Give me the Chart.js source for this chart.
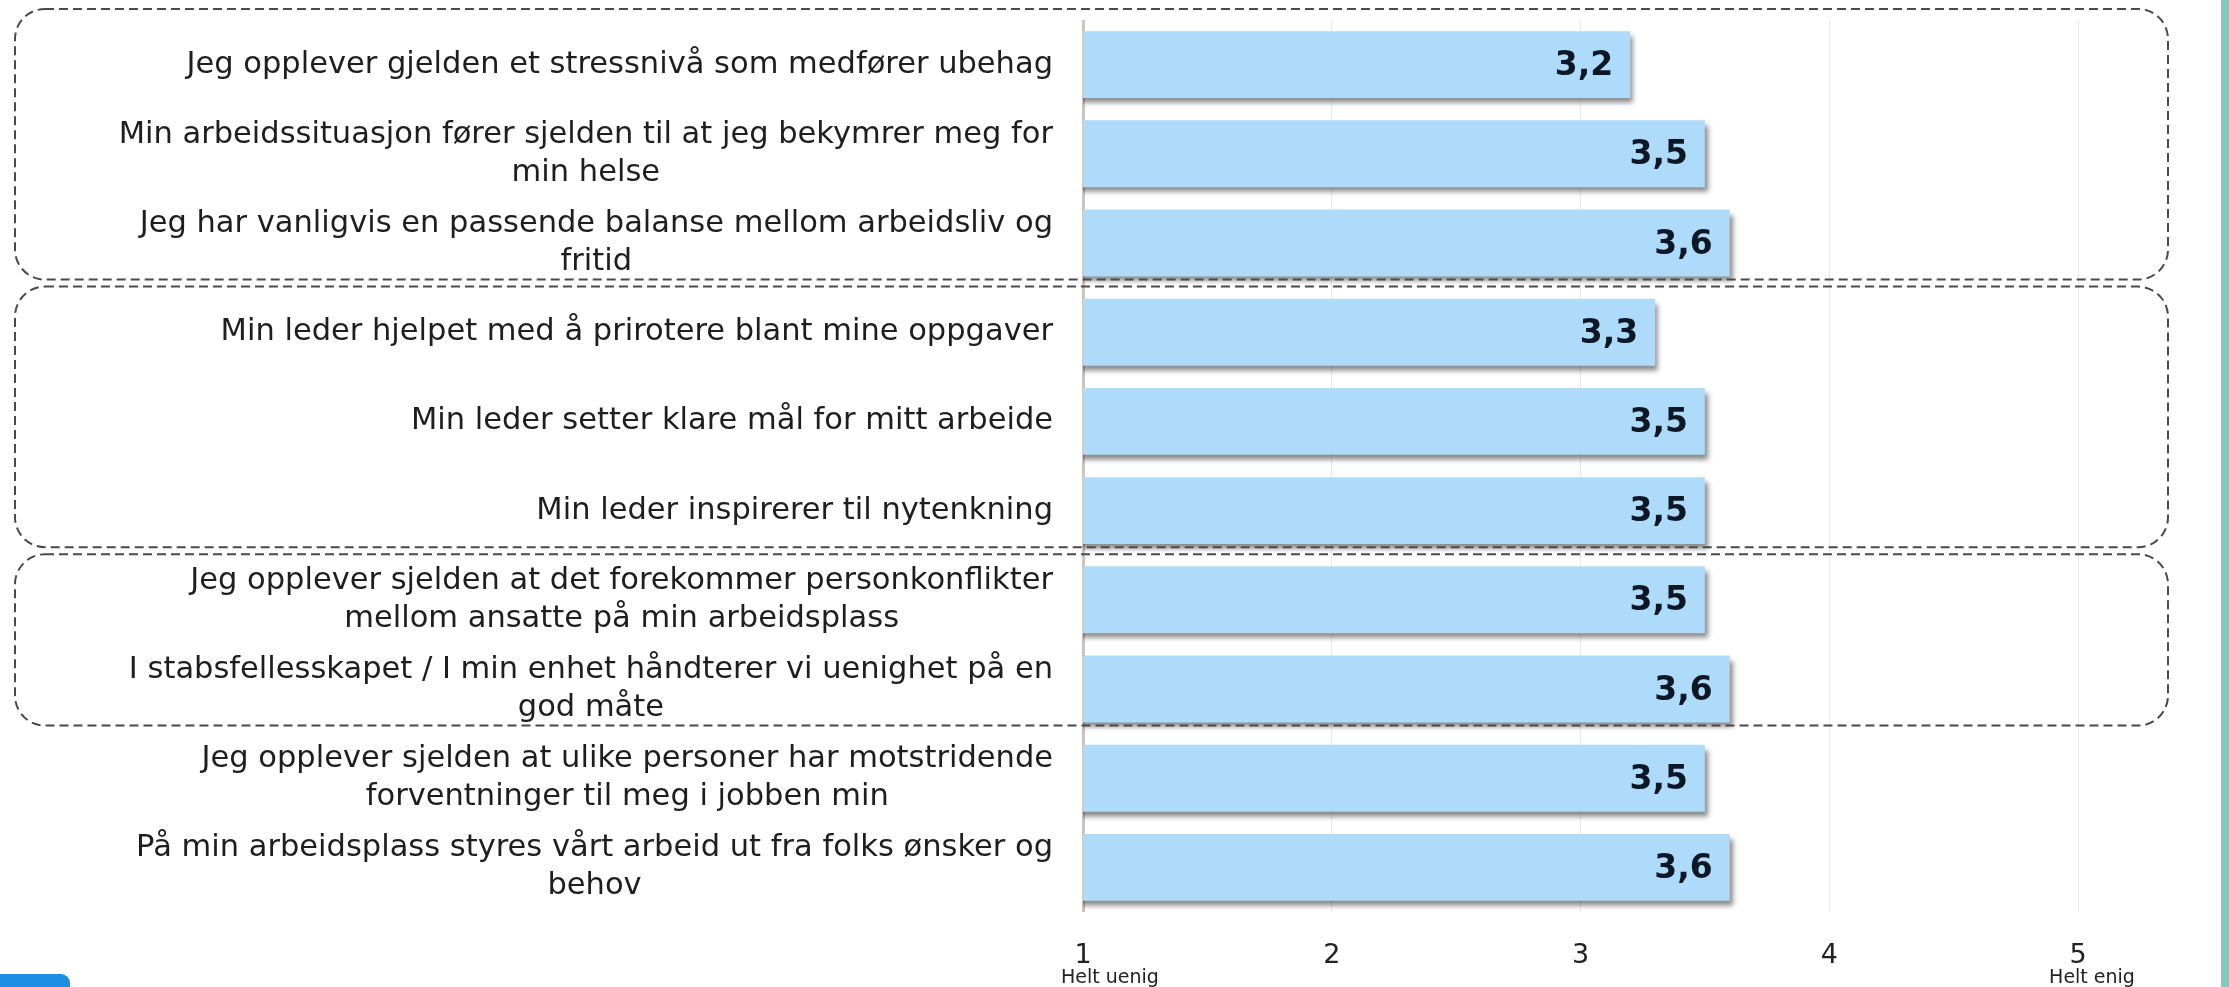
<!DOCTYPE html>
<html>
<head>
<meta charset="utf-8">
<script src="https://cdn.jsdelivr.net/npm/chart.js@4"></script>
<style>
  html, body { margin: 0; padding: 0; background: #ffffff; overflow: hidden; }
  #wrap { position: relative; width: 2229px; height: 987px; }
  #chart { position: absolute; left: 0; top: 0; }
  #strip { position: absolute; left: 2221px; top: 0; width: 8px; height: 987px; background: #7fcbbd; }
  #corner { position: absolute; left: 0; top: 974px; width: 70px; height: 14px; background: #1c8fe2; border-top-right-radius: 9px; }
</style>
</head>
<body>
<div id="wrap">
  <canvas id="chart" width="2229" height="987"></canvas>
  <div id="strip"></div>
  <div id="corner"></div>
</div>
<script>
// ---- data ----
const categories = [
  ['Jeg opplever gjelden et stressnivå som medfører ubehag'],
  ['Min arbeidssituasjon fører sjelden til at jeg bekymrer meg for', 'min helse'],
  ['Jeg har vanligvis en passende balanse mellom arbeidsliv og', 'fritid'],
  ['Min leder hjelpet med å prirotere blant mine oppgaver'],
  ['Min leder setter klare mål for mitt arbeide'],
  ['Min leder inspirerer til nytenkning'],
  ['Jeg opplever sjelden at det forekommer personkonflikter', 'mellom ansatte på min arbeidsplass'],
  ['I stabsfellesskapet / I min enhet håndterer vi uenighet på en', 'god måte'],
  ['Jeg opplever sjelden at ulike personer har motstridende', 'forventninger til meg i jobben min'],
  ['På min arbeidsplass styres vårt arbeid ut fra folks ønsker og', 'behov']
];
const values = [3.2, 3.5, 3.6, 3.3, 3.5, 3.5, 3.5, 3.6, 3.5, 3.6];
const tickValues = [1, 2, 3, 4, 5];
const tickSubLabelValues = [1, 5];
const tickSubLabels = ['Helt uenig', 'Helt enig'];
const groupStarts = [0, 3, 6];
const groupEnds = [2, 5, 7];

// ---- styling ----
const FONT = "'DejaVu Sans', Verdana, sans-serif";
const BAR_COLOR = '#aedbfa';
const LABEL_FONT_SIZE = 30.5;
const LABEL_LINE_H = 38;
const LABEL_RIGHT_GAP = 30;

const decorPlugin = {
  id: 'decor',
  beforeDatasetsDraw(chart) {
    const ctx = chart.ctx;
    ctx.save();
    ctx.shadowColor = 'rgba(40,40,40,0.55)';
    ctx.shadowOffsetX = 3;
    ctx.shadowOffsetY = 5;
    ctx.shadowBlur = 5;
  },
  afterDatasetsDraw(chart) {
    const ctx = chart.ctx;
    ctx.restore();
    const y = chart.scales.y;
    const step = Math.abs(y.getPixelForValue(1) - y.getPixelForValue(0));
    const boundary = (i) => y.getPixelForValue(i) - step / 2;

    // dashed group boxes
    ctx.save();
    ctx.strokeStyle = '#4a4a4a';
    ctx.lineWidth = 2;
    ctx.setLineDash([9, 5]);
    const left = 15, right = 2168, r = 30;
    for (let g = 0; g < groupStarts.length; g++) {
      const top = boundary(groupStarts[g]) + (groupStarts[g] === 0 ? -11 : -1);
      const bottom = boundary(groupEnds[g] + 1) - 8;
      ctx.beginPath();
      ctx.moveTo(left + r, top);
      ctx.lineTo(right - r, top);
      ctx.arcTo(right, top, right, top + r, r);
      ctx.lineTo(right, bottom - r);
      ctx.arcTo(right, bottom, right - r, bottom, r);
      ctx.lineTo(left + r, bottom);
      ctx.arcTo(left, bottom, left, bottom - r, r);
      ctx.lineTo(left, top + r);
      ctx.arcTo(left, top, left + r, top, r);
      ctx.closePath();
      ctx.stroke();
    }
    ctx.restore();

    // category labels: block right-aligned, lines centred within block
    ctx.save();
    ctx.font = LABEL_FONT_SIZE + 'px ' + FONT;
    ctx.fillStyle = '#1e1e1e';
    ctx.textAlign = 'center';
    ctx.textBaseline = 'middle';
    const rightEdge = chart.chartArea.left - LABEL_RIGHT_GAP;
    categories.forEach((lines, i) => {
      const cy = y.getPixelForValue(i);
      const w = Math.max(...lines.map(l => ctx.measureText(l).width));
      const cx = rightEdge - w / 2;
      const y0 = cy - (lines.length - 1) * LABEL_LINE_H / 2;
      lines.forEach((l, k) => ctx.fillText(l, cx, y0 + k * LABEL_LINE_H));
    });
    ctx.restore();

    // value labels
    ctx.save();
    ctx.font = 'bold 33px ' + FONT;
    ctx.fillStyle = '#0d1726';
    ctx.textAlign = 'right';
    ctx.textBaseline = 'middle';
    const meta = chart.getDatasetMeta(0);
    meta.data.forEach((bar, i) => {
      const txt = values[i].toFixed(1).replace('.', ',');
      ctx.fillText(txt, bar.x - 17, bar.y + 2);
    });
    ctx.restore();
  },
  afterDraw(chart) {
    const ctx = chart.ctx;
    const x = chart.scales.x;
    ctx.save();
    ctx.font = '19px ' + FONT;
    ctx.fillStyle = '#222222';
    ctx.textBaseline = 'alphabetic';
    tickSubLabelValues.forEach((v, i) => {
      const px = x.getPixelForValue(v);
      if (i === 0) {
        ctx.textAlign = 'left';
        ctx.fillText(tickSubLabels[i], px - 22, 983);
      } else {
        ctx.textAlign = 'center';
        ctx.fillText(tickSubLabels[i], px + 14, 983);
      }
    });
    ctx.restore();
  }
};

new Chart(document.getElementById('chart'), {
  type: 'bar',
  data: {
    labels: categories,
    datasets: [{
      data: values,
      backgroundColor: BAR_COLOR,
      borderWidth: 0,
      barPercentage: 0.75,
      categoryPercentage: 1.0
    }]
  },
  options: {
    indexAxis: 'y',
    responsive: false,
    animation: false,
    layout: { padding: { top: 20, right: 151, left: 0, bottom: 0 } },
    plugins: { legend: { display: false }, tooltip: { enabled: false } },
    scales: {
      x: {
        type: 'linear',
        min: 1,
        max: 5,
        afterBuildTicks(scale) { scale.ticks = tickValues.map(v => ({ value: v })); },
        afterFit(scale) { scale.height = 75; scale.paddingLeft = 0; scale.paddingRight = 0; },
        border: { display: false },
        grid: {
          drawTicks: false,
          color: (c) => (c.tick && c.tick.value === 1) ? '#cbc5bd' : '#e9e9e9',
          lineWidth: (c) => (c.tick && c.tick.value === 1) ? 3 : 1
        },
        ticks: {
          padding: 28,
          color: '#222222',
          font: { family: FONT, size: 27 },
          callback: (v) => String(v)
        }
      },
      y: {
        afterFit(scale) { scale.width = 1083; scale.paddingTop = 0; scale.paddingBottom = 0; },
        border: { display: false },
        grid: { display: false, drawTicks: false },
        ticks: { display: false }
      }
    }
  },
  plugins: [decorPlugin]
});
</script>
</body>
</html>
